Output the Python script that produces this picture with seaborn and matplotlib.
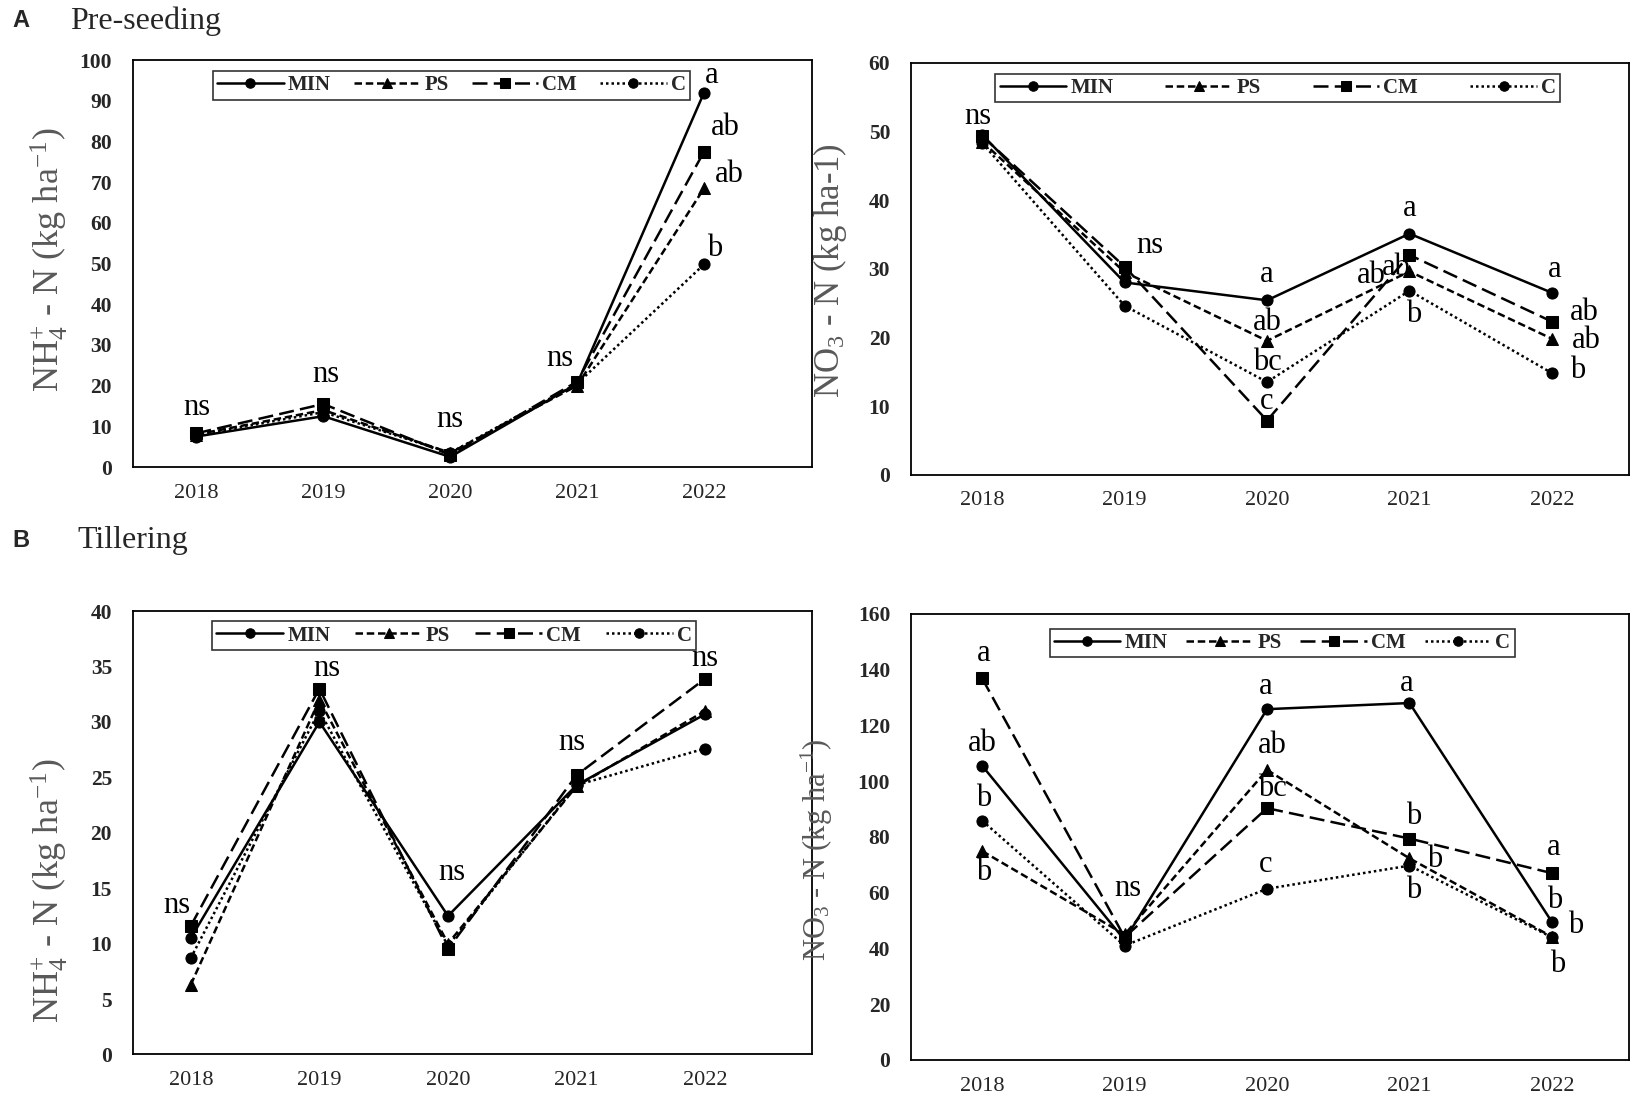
import numpy as np
import pandas as pd
import matplotlib
matplotlib.use('Agg')
import matplotlib.pyplot as plt
import seaborn as sns

sns.set_style('white')
plt.rcParams['font.family'] = ['Liberation Serif', 'DejaVu Serif']
plt.rcParams['mathtext.fontset'] = 'custom'
plt.rcParams['mathtext.rm'] = 'Liberation Serif'
plt.rcParams['mathtext.it'] = 'Liberation Serif:italic'

years = ['2018', '2019', '2020', '2021', '2022']
treatments = ['MIN', 'PS', 'CM', 'C']

# A - pre-seeding, NH4+-N
pre_nh4_min = [7.5, 12.5, 2.5, 20.5, 92.0]
pre_nh4_ps = [8.0, 14.0, 3.5, 20.0, 68.5]
pre_nh4_cm = [8.3, 15.5, 3.0, 21.0, 77.5]
pre_nh4_c = [7.8, 13.5, 3.5, 20.5, 49.8]

# A - pre-seeding, NO3-N
pre_no3_min = [49.5, 28.0, 25.4, 35.1, 26.5]
pre_no3_ps = [48.5, 29.5, 19.5, 29.6, 19.8]
pre_no3_cm = [49.3, 30.3, 7.9, 32.0, 22.3]
pre_no3_c = [48.3, 24.6, 13.5, 26.8, 14.8]

# B - tillering, NH4+-N
til_nh4_min = [10.5, 30.0, 12.5, 24.3, 30.7]
til_nh4_ps = [6.3, 32.0, 10.0, 24.2, 31.0]
til_nh4_cm = [11.6, 33.0, 9.5, 25.2, 33.9]
til_nh4_c = [8.7, 31.0, 9.8, 24.3, 27.6]

# B - tillering, NO3-N
til_no3_min = [105.5, 43.0, 125.8, 128.0, 49.5]
til_no3_ps = [74.9, 45.0, 104.0, 72.3, 44.2]
til_no3_cm = [136.8, 44.0, 90.3, 79.4, 67.0]
til_no3_c = [85.8, 41.0, 61.4, 69.7, 44.0]

# letters of significance (x index, y, text)
pre_nh4_letters = [(0, 14.6, 'ns'), (1.02, 22.8, 'ns'), (2.0, 11.8, 'ns'), (2.86, 26.7, 'ns'),
                   (4.06, 96.2, 'a'), (4.17, 83.3, 'ab'), (4.2, 71.8, 'ab'), (4.08, 53.8, 'b')]
pre_no3_letters = [(-0.03, 52.1, 'ns'), (1.18, 33.4, 'ns'),
                   (2.0, 29.2, 'a'), (2.0, 22.2, 'ab'), (2.0, 16.4, 'bc'), (2.0, 10.6, 'c'),
                   (3.0, 38.8, 'a'), (2.73, 29.0, 'ab'), (2.91, 30.2, 'ab'), (3.03, 23.3, 'b'),
                   (4.02, 29.9, 'a'), (4.23, 23.6, 'ab'), (4.24, 19.5, 'ab'), (4.18, 15.2, 'b')]
til_nh4_letters = [(-0.11, 13.4, 'ns'), (1.06, 34.8, 'ns'), (2.03, 16.4, 'ns'),
                   (2.96, 28.1, 'ns'), (4.0, 35.7, 'ns')]
til_no3_letters = [(0.01, 145.7, 'a'), (0.0, 113.5, 'ab'), (0.01, 93.7, 'b'), (0.01, 67.4, 'b'),
                   (1.02, 61.4, 'ns'),
                   (1.99, 133.8, 'a'), (2.04, 112.8, 'ab'), (2.04, 97.4, 'bc'), (1.99, 70.1, 'c'),
                   (2.98, 134.9, 'a'), (3.03, 87.3, 'b'), (3.18, 71.9, 'b'), (3.03, 60.7, 'b'),
                   (4.01, 76.1, 'a'), (4.02, 57.3, 'b'), (4.17, 48.3, 'b'), (4.04, 34.1, 'b')]

markers = {'MIN': 'o', 'PS': '^', 'CM': 's', 'C': 'o'}
dashes = {'MIN': '', 'PS': (3, 1.5), 'CM': (6, 2.5), 'C': (1, 1.2)}

nh4_label = r'NH$_{\mathrm{4}}^{\mathrm{+}}$ - N (kg ha$^{\mathrm{-1}}$)'


def make_df(series):
    return pd.DataFrame({
        'idx': np.tile(np.arange(len(years)), len(treatments)),
        'value': np.concatenate(series),
        'treatment': np.repeat(treatments, len(years)),
    })


def draw_panel(ax, series, letters, ymax, ystep, ylabel, label_pos, label_size, xlim,
               leg_x, leg_y, colsp):
    df = make_df(series)
    sns.lineplot(data=df, x='idx', y='value', style='treatment', style_order=treatments,
                 markers=markers, dashes=dashes, color='black', linewidth=1.8,
                 markersize=8, markeredgecolor='black', ax=ax)
    handles, labels = ax.get_legend_handles_labels()
    keep = [(h, l) for h, l in zip(handles, labels) if l in treatments]
    ax.legend([h for h, l in keep], [l for h, l in keep], ncol=4, loc='upper center',
              bbox_to_anchor=(leg_x, leg_y), frameon=True, fancybox=False, edgecolor='black',
              prop={'family': 'Liberation Serif', 'weight': 'bold', 'size': 15},
              handlelength=3.2, handletextpad=0.2, columnspacing=colsp, borderpad=0.2,
              markerscale=0.85)
    ax.get_legend().get_frame().set_linewidth(1.2)
    for x, y, t in letters:
        ax.text(x, y, t, ha='center', va='center', fontsize=22, color='black')
    ax.set_xlim(*xlim)
    ax.set_ylim(0, ymax)
    ax.set_xticks(range(len(years)))
    ax.set_xticklabels(years, fontsize=16)
    ax.set_yticks(np.arange(0, ymax + ystep / 2, ystep))
    ax.set_yticklabels([str(int(v)) for v in np.arange(0, ymax + ystep / 2, ystep)],
                       fontsize=15.5, fontweight='bold')
    ax.tick_params(axis='y', length=0, pad=15)
    ax.tick_params(axis='x', length=0, pad=12)
    ax.set_xlabel('')
    ax.set_ylabel(ylabel, fontsize=label_size, color='#595959')
    ax.yaxis.set_label_coords(*label_pos)
    for s in ax.spines.values():
        s.set_color('black')
        s.set_linewidth(1.3)


fig = plt.figure(figsize=(16.37, 10.99), dpi=100)
ax1 = fig.add_axes([0.0812, 0.575, 0.4148, 0.3704])
ax2 = fig.add_axes([0.5565, 0.568, 0.4385, 0.375])
ax3 = fig.add_axes([0.0812, 0.0405, 0.4148, 0.4035])
ax4 = fig.add_axes([0.5565, 0.0355, 0.4385, 0.406])

draw_panel(ax1, [pre_nh4_min, pre_nh4_ps, pre_nh4_cm, pre_nh4_c], pre_nh4_letters,
           100, 10, nh4_label, (-0.093, 0.51), 26, (-0.5, 4.85), 0.469, 0.998, 1.1)
draw_panel(ax2, [pre_no3_min, pre_no3_ps, pre_no3_cm, pre_no3_c], pre_no3_letters,
           60, 10, 'NO$_{\\mathrm{3}}$ - N (kg ha-1)', (-0.086, 0.495), 25, (-0.5, 4.54),
           0.511, 0.998, 2.5)
draw_panel(ax3, [til_nh4_min, til_nh4_ps, til_nh4_cm, til_nh4_c], til_nh4_letters,
           40, 5, nh4_label, (-0.093, 0.37), 26, (-0.45, 4.83), 0.473, 1.0, 1.2)
draw_panel(ax4, [til_no3_min, til_no3_ps, til_no3_cm, til_no3_c], til_no3_letters,
           160, 20, r'NO$_{\mathrm{3}}$ - N (kg ha$^{\mathrm{-1}}$)', (-0.106, 0.47), 22,
           (-0.5, 4.54), 0.517, 0.99, 0.9)

fig.text(0.0076, 0.981, 'A', fontsize=17, fontweight='bold', family='Liberation Sans', va='center')
fig.text(0.043, 0.981, 'Pre-seeding', fontsize=23, va='center')
fig.text(0.0076, 0.508, 'B', fontsize=17, fontweight='bold', family='Liberation Sans', va='center')
fig.text(0.047, 0.508, 'Tillering', fontsize=23, va='center')

fig.savefig('out.png', dpi=100)
